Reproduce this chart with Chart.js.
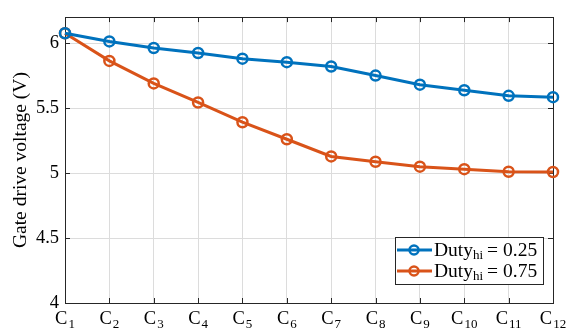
<!DOCTYPE html>
<html>
<head>
<meta charset="utf-8">
<script src="https://cdn.jsdelivr.net/npm/chart.js@4.4.1/dist/chart.umd.min.js"></script>
<style>
html,body{margin:0;padding:0;background:#fff}
#wrap{width:571px;height:330px}
</style>
</head>
<body>
<div id="wrap"><canvas id="chart"></canvas></div>
<script>
// ---------- data ----------
let categories=["C1","C2","C3","C4","C5","C6","C7","C8","C9","C10","C11","C12"];
let dutyLow =[6.076,6.013,5.962,5.924,5.880,5.853,5.820,5.750,5.680,5.637,5.594,5.584];
let dutyHigh=[6.076,5.863,5.690,5.543,5.391,5.260,5.128,5.087,5.049,5.030,5.010,5.008];
let yTicks=[4,4.5,5,5.5,6];
let seriesNames=[["Duty","hi"," = 0.25"],["Duty","hi"," = 0.75"]];
let colors=["#0072BD","#D95319"];

const serif='"Liberation Serif", "DejaVu Serif", serif';

/* ---------- box, inward ticks, subscript labels, legend ---------- */
const boxPlugin={
 id:"box",
 beforeDatasetsDraw(ch){
  let {ctx,chartArea:a,scales:{x,y}}=ch;
  ctx.save();
  ctx.strokeStyle="#262626";ctx.lineWidth=1;
  ctx.beginPath();
  categories.forEach((c,i)=>{
   let px=Math.round(x.getPixelForTick(i))+0.5;
   ctx.moveTo(px,a.bottom);ctx.lineTo(px,a.bottom-5);
   ctx.moveTo(px,a.top);ctx.lineTo(px,a.top+5);
  });
  yTicks.forEach(v=>{
   let py=Math.round(y.getPixelForValue(v))+0.5;
   ctx.moveTo(a.left,py);ctx.lineTo(a.left+5,py);
   ctx.moveTo(a.right,py);ctx.lineTo(a.right-5,py);
  });
  ctx.stroke();
  ctx.strokeRect(Math.round(a.left)+0.5,Math.round(a.top)+0.5,Math.round(a.right-a.left),Math.round(a.bottom-a.top));
  ctx.restore();
 },
 afterDraw(ch){
  let {ctx,scales:{x}}=ch;
  ctx.save();
  ctx.fillStyle="#000";ctx.textBaseline="alphabetic";ctx.textAlign="left";
  // x labels: C with subscript number
  categories.forEach((c,i)=>{
   let main=c[0],sub=c.slice(1);
   ctx.font="18.5px "+serif;let w1=ctx.measureText(main).width;
   ctx.font="13px "+serif;let w2=ctx.measureText(sub).width;
   let px=x.getPixelForTick(i)-(w1+w2+1)/2;
   ctx.font="18.5px "+serif;ctx.fillText(main,px,324);
   ctx.font="13px "+serif;ctx.fillText(sub,px+w1+1,328);
  });
  // legend
  let lx=395,ly=237,lw=148,lh=47;
  ctx.fillStyle="#fff";ctx.fillRect(lx,ly,lw,lh);
  ctx.strokeStyle="#262626";ctx.lineWidth=1;ctx.strokeRect(lx+0.5,ly+0.5,lw,lh);
  seriesNames.forEach((n,i)=>{
   let cy=ly+13+i*21;
   ctx.strokeStyle=colors[i];ctx.lineWidth=3;
   ctx.beginPath();ctx.moveTo(lx+2,cy);ctx.lineTo(lx+37,cy);ctx.stroke();
   ctx.lineWidth=2.5;ctx.beginPath();ctx.arc(lx+19,cy,4.5,0,Math.PI*2);ctx.stroke();
   ctx.fillStyle="#000";
   let tx=lx+39;
   ctx.font="19.5px "+serif;ctx.fillText(n[0],tx,cy+6);tx+=ctx.measureText(n[0]).width;
   ctx.font="13px "+serif;ctx.fillText(n[1],tx,cy+9);tx+=ctx.measureText(n[1]).width+4;
   let parts=n[2].trim().split(" ");
   ctx.font="19.5px "+serif;
   ctx.fillText(parts[0],tx,cy+6);tx+=ctx.measureText(parts[0]).width+5;
   ctx.fillText(parts[1],tx,cy+6);
  });
  ctx.restore();
 }
};

function ds(label,data,col){
 return {label:label,data:data,borderColor:col,backgroundColor:col,borderWidth:3,
  pointRadius:5,pointBorderWidth:2.5,pointBackgroundColor:"rgba(0,0,0,0)",pointBorderColor:col,
  tension:0,clip:false};
}

new Chart(document.getElementById("chart"),{
 type:"line",
 data:{labels:categories,datasets:[
  ds(seriesNames[0].join("_"),dutyLow,colors[0]),
  ds(seriesNames[1].join("_"),dutyHigh,colors[1])
 ]},
 options:{
  responsive:true,maintainAspectRatio:false,animation:false,
  layout:{padding:{top:14,right:18,left:0,bottom:0}},
  plugins:{legend:{display:false},tooltip:{enabled:false}},
  scales:{
   x:{
    ticks:{display:false},
    grid:{color:"#dcdcdc",drawTicks:false},
    border:{display:false},
    afterFit:s=>{s.height=27;}
   },
   y:{
    min:4,max:6.2,
    afterBuildTicks:s=>{s.ticks=yTicks.map(v=>({value:v}));},
    afterFit:s=>{s.width=65;},
    ticks:{color:"#000",padding:6,font:{family:serif,size:18.5},callback:v=>String(v)},
    grid:{color:"#dcdcdc",drawTicks:false},
    border:{display:false},
    title:{display:true,text:"Gate drive voltage (V)",color:"#000",font:{family:serif,size:19.5},padding:{top:9,bottom:0}}
   }
  }
 },
 plugins:[boxPlugin]
});
</script>
</body>
</html>
